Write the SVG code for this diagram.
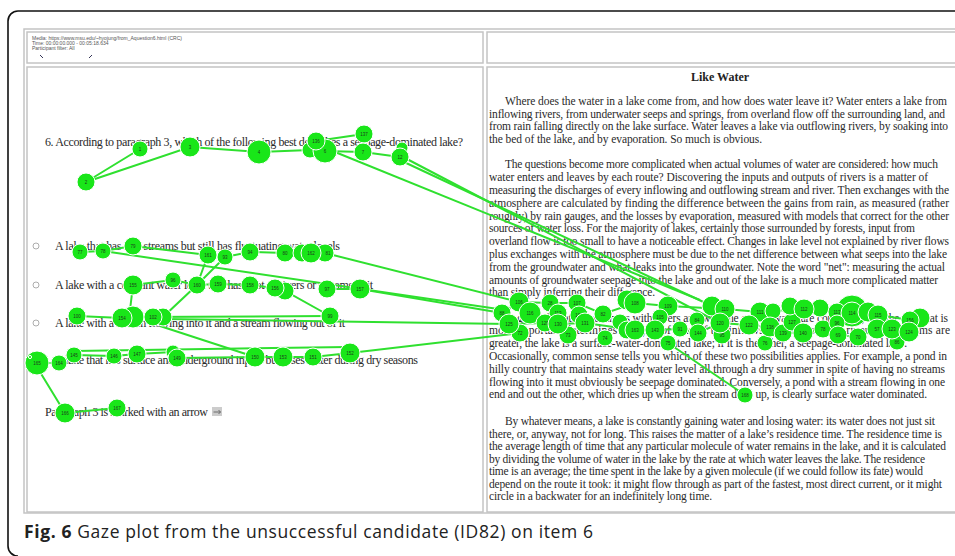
<svg xmlns="http://www.w3.org/2000/svg" width="955" height="556" viewBox="0 0 955 556">
<style>
.pg{font-family:"Liberation Serif","Times New Roman",serif;font-size:11.5px;fill:#2a2a2a}
.q{font-family:"Liberation Serif","Times New Roman",serif;font-size:12px;fill:#2a2a2a}
.sm{font-family:"Liberation Sans",Arial,sans-serif;font-size:5px;fill:#555}
.fx circle{fill:#19e619;stroke:#fff;stroke-width:1}
.fx text{font-family:"Liberation Sans",Arial,sans-serif;font-size:4.5px;fill:#1c3c1c;text-anchor:middle;dominant-baseline:central}
.cn line,.cn polyline{stroke:#2fe02f;stroke-width:2;fill:none}
.bd{fill:none;stroke:#c4c4c4;stroke-width:1.5}
.rd{fill:#fff;stroke:#999;stroke-width:0.8}
</style>
<rect width="955" height="556" fill="#fff"/>
<path d="M955,11 H18 A10,10 0 0 0 8,21 V546 A10,10 0 0 0 18,556" fill="none" stroke="#111" stroke-width="1.6"/>
<g id="screen">
<rect x="24" y="29" width="940" height="484" class="bd" stroke-width="2"/>
<rect x="27" y="32" width="456" height="31" class="bd"/>
<rect x="487" y="32" width="480" height="31" class="bd"/>
<rect x="27" y="67" width="456" height="445" class="bd"/>
<rect x="487" y="67" width="480" height="445" class="bd"/>
</g>
<g id="info">
<text class="sm" x="32" y="40">Media: https://www.msu.edu/~hyojung/from_Aquestion6.html (CRC)</text>
<text class="sm" x="32" y="45">Time: 00:00:00.000 - 00:05:18.634</text>
<text class="sm" x="32" y="50">Participant filter: All</text>
<path d="M40,55 l3,3 M89,58 l3,-3" stroke="#335" stroke-width="1"/>
</g>
<g id="question">
<text class="q" x="45" y="146" textLength="418" lengthAdjust="spacing">6. According to paragraph 3, which of the following best describes a seepage-dominated lake?</text>
<circle class="rd" cx="36" cy="246" r="3"/>
<circle class="rd" cx="36" cy="285" r="3"/>
<circle class="rd" cx="36" cy="323" r="3"/>
<circle class="rd" cx="36" cy="360" r="3"/>
<text class="q" x="55" y="250" textLength="285" lengthAdjust="spacing">A lake that has few streams but still has fluctuating water levels</text>
<text class="q" x="55" y="289" textLength="318" lengthAdjust="spacing">A lake with a constant water level that has a lot of rivers or streams in it</text>
<text class="q" x="55" y="327" textLength="290" lengthAdjust="spacing">A lake with a stream flowing into it and a stream flowing out of it</text>
<text class="q" x="55" y="364" textLength="363" lengthAdjust="spacing">A lake that has surface and underground inputs but loses water during dry seasons</text>
<text class="q" x="45" y="416" textLength="163" lengthAdjust="spacing">Paragraph 3 is marked with an arrow</text>
<rect x="212" y="407" width="10" height="9" fill="#ccc"/>
<path d="M213.5,412 h7 m-2,-2 l2,2 l-2,2" stroke="#555" stroke-width="0.8" fill="none"/>
</g>
<g id="passage">
<text x="720" y="81" text-anchor="middle" font-family="Liberation Serif,serif" font-size="12" font-weight="bold" fill="#222">Like Water</text>
<text class="pg" x="505" y="105" textLength="442" lengthAdjust="spacing">Where does the water in a lake come from, and how does water leave it? Water enters a lake from</text>
<text class="pg" x="489" y="118" textLength="456" lengthAdjust="spacing">inflowing rivers, from underwater seeps and springs, from overland flow off the surrounding land, and</text>
<text class="pg" x="489" y="130" textLength="459" lengthAdjust="spacing">from rain falling directly on the lake surface. Water leaves a lake via outflowing rivers, by soaking into</text>
<text class="pg" x="489" y="143" textLength="273" lengthAdjust="spacing">the bed of the lake, and by evaporation. So much is obvious.</text>
<text class="pg" x="505" y="168" textLength="433" lengthAdjust="spacing">The questions become more complicated when actual volumes of water are considered: how much</text>
<text class="pg" x="489" y="181" textLength="439" lengthAdjust="spacing">water enters and leaves by each route? Discovering the inputs and outputs of rivers is a matter of</text>
<text class="pg" x="489" y="194" textLength="460" lengthAdjust="spacing">measuring the discharges of every inflowing and outflowing stream and river. Then exchanges with the</text>
<text class="pg" x="489" y="207" textLength="460" lengthAdjust="spacing">atmosphere are calculated by finding the difference between the gains from rain, as measured (rather</text>
<text class="pg" x="489" y="220" textLength="460" lengthAdjust="spacing">roughly) by rain gauges, and the losses by evaporation, measured with models that correct for the other</text>
<text class="pg" x="489" y="232" textLength="426" lengthAdjust="spacing">sources of water loss. For the majority of lakes, certainly those surrounded by forests, input from</text>
<text class="pg" x="489" y="245" textLength="460" lengthAdjust="spacing">overland flow is too small to have a noticeable effect. Changes in lake level not explained by river flows</text>
<text class="pg" x="489" y="258" textLength="458" lengthAdjust="spacing">plus exchanges with the atmosphere must be due to the net difference between what seeps into the lake</text>
<text class="pg" x="489" y="271" textLength="456" lengthAdjust="spacing">from the groundwater and what leaks into the groundwater. Note the word "net": measuring the actual</text>
<text class="pg" x="489" y="284" textLength="449" lengthAdjust="spacing">amounts of groundwater seepage into the lake and out of the lake is a much more complicated matter</text>
<text class="pg" x="489" y="296" textLength="166" lengthAdjust="spacing">than simply inferring their difference.</text>
<text class="pg" x="505" y="322" textLength="443" lengthAdjust="spacing">In general, water exchanges with rivers and with the groundwater are compared, and the one that is</text>
<text class="pg" x="489" y="334" textLength="461" lengthAdjust="spacing">more important determines the type of lake. If the inflows and outflows by rivers and streams are</text>
<text class="pg" x="489" y="347" textLength="418" lengthAdjust="spacing">greater, the lake is a surface-water-dominated lake; if it is the other, a seepage-dominated lake.</text>
<text class="pg" x="489" y="360" textLength="458" lengthAdjust="spacing">Occasionally, common sense tells you which of these two possibilities applies. For example, a pond in</text>
<text class="pg" x="489" y="373" textLength="456" lengthAdjust="spacing">hilly country that maintains steady water level all through a dry summer in spite of having no streams</text>
<text class="pg" x="489" y="386" textLength="456" lengthAdjust="spacing">flowing into it must obviously be seepage dominated. Conversely, a pond with a stream flowing in one</text>
<text class="pg" x="489" y="398" textLength="438" lengthAdjust="spacing">end and out the other, which dries up when the stream dries up, is clearly surface water dominated.</text>
<text class="pg" x="505" y="425" textLength="430" lengthAdjust="spacing">By whatever means, a lake is constantly gaining water and losing water: its water does not just sit</text>
<text class="pg" x="489" y="438" textLength="453" lengthAdjust="spacing">there, or, anyway, not for long. This raises the matter of a lake’s residence time. The residence time is</text>
<text class="pg" x="489" y="450" textLength="457" lengthAdjust="spacing">the average length of time that any particular molecule of water remains in the lake, and it is calculated</text>
<text class="pg" x="489" y="463" textLength="436" lengthAdjust="spacing">by dividing the volume of water in the lake by the rate at which water leaves the lake. The residence</text>
<text class="pg" x="489" y="475" textLength="434" lengthAdjust="spacing">time is an average; the time spent in the lake by a given molecule (if we could follow its fate) would</text>
<text class="pg" x="489" y="488" textLength="453" lengthAdjust="spacing">depend on the route it took: it might flow through as part of the fastest, most direct current, or it might</text>
<text class="pg" x="489" y="500" textLength="223" lengthAdjust="spacing">circle in a backwater for an indefinitely long time.</text>
</g>
<g id="connectors" class="cn">
<polyline points="140,149 86,182 190,147 259,152 310,150 325,151 363,152 400,157"/>
<line x1="316" y1="141" x2="364" y2="134"/>
<line x1="405" y1="158" x2="720" y2="323"/>
<line x1="404" y1="162" x2="712" y2="306"/>
<line x1="335" y1="152" x2="700" y2="300"/>
<polyline points="80,252 103,251 133,246 208,255 225,257 250,252 285,253 310,253 325,253"/>
<line x1="208" y1="255" x2="197" y2="285"/>
<line x1="225" y1="257" x2="197" y2="285"/>
<polyline points="133,285 173,280 197,285 218,284 250,285 275,288 285,291 330,316"/>
<line x1="327" y1="289" x2="360" y2="289"/>
<line x1="103" y1="251" x2="505" y2="310"/>
<line x1="360" y1="289" x2="502" y2="313"/>
<line x1="325" y1="253" x2="519" y2="302"/>
<polyline points="133,285 130,310 122,318 77,316"/>
<line x1="197" y1="285" x2="163" y2="317"/>
<line x1="133" y1="317" x2="330" y2="316"/>
<line x1="163" y1="319" x2="509" y2="324"/>
<line x1="160" y1="326" x2="255" y2="357"/>
<polyline points="37,363 59,363 74,355 114,356 137,354 173,352 177,358 255,357 283,357 313,357 350,353"/>
<line x1="74" y1="351" x2="348" y2="347"/>
<line x1="350" y1="353" x2="520" y2="333"/>
<polyline points="40,372 65,413 117,408"/>
<polyline points="502,313 519,302 550,303 577,303 603,314 635,303 668,306 725,309 760,312 804,309 852,313 878,315 910,320"/>
<polyline points="509,324 545,323 558,324 585,323 635,330 655,330 680,329 698,333 720,323 749,325 770,327 783,333 803,333 823,329 838,335 858,337 877,329 892,329 909,332"/>
<line x1="668" y1="343" x2="745" y2="395"/>
</g>
<g id="fixations" class="fx">
<g id="f2"><circle cx="86" cy="182" r="9"/><text x="86" y="182">2</text></g>
<g id="f1"><circle cx="140" cy="149" r="8"/><text x="140" y="149">1</text></g>
<g id="f3"><circle cx="190" cy="147" r="10"/><text x="190" y="147">3</text></g>
<g id="f4"><circle cx="259" cy="152" r="12"/><text x="259" y="152">4</text></g>
<g id="f5"><circle cx="310" cy="150" r="8"/></g>
<g id="f6"><circle cx="325" cy="151" r="12"/><text x="325" y="151">6</text></g>
<g id="f136"><circle cx="316" cy="141" r="9"/><text x="316" y="141">136</text></g>
<g id="f137"><circle cx="364" cy="134" r="9"/><text x="364" y="134">137</text></g>
<g id="f7"><circle cx="363" cy="152" r="9"/><text x="363" y="152">7</text></g>
<g id="f8"><circle cx="402" cy="148" r="6"/></g>
<g id="f12"><circle cx="400" cy="157" r="9"/><text x="400" y="157">12</text></g>
<g id="f77"><circle cx="80" cy="252" r="8"/><text x="80" y="252">77</text></g>
<g id="f78"><circle cx="103" cy="251" r="8"/><text x="103" y="251">78</text></g>
<g id="f79"><circle cx="133" cy="246" r="9"/><text x="133" y="246">79</text></g>
<g id="f93"><circle cx="225" cy="257" r="8"/><text x="225" y="257">93</text></g>
<g id="f161"><circle cx="208" cy="255" r="9"/><text x="208" y="255">161</text></g>
<g id="f94"><circle cx="250" cy="252" r="9"/><text x="250" y="252">94</text></g>
<g id="f80"><circle cx="285" cy="253" r="9"/><text x="285" y="253">80</text></g>
<g id="f81"><circle cx="325" cy="253" r="9"/><text x="328" y="253">81</text></g>
<g id="f163a"><circle cx="302" cy="253" r="9"/></g>
<g id="f162"><circle cx="311" cy="253" r="10"/><text x="311" y="253">162</text></g>
<g id="f96"><circle cx="173" cy="280" r="8"/><text x="173" y="280">96</text></g>
<g id="f155"><circle cx="133" cy="285" r="10"/><text x="133" y="285">155</text></g>
<g id="f160"><circle cx="197" cy="285" r="9"/><text x="197" y="285">160</text></g>
<g id="f159"><circle cx="218" cy="284" r="9"/><text x="218" y="284">159</text></g>
<g id="f158"><circle cx="250" cy="285" r="9"/><text x="250" y="285">158</text></g>
<g id="f98"><circle cx="285" cy="291" r="9"/></g>
<g id="f156"><circle cx="275" cy="288" r="9"/><text x="275" y="288">156</text></g>
<g id="f97"><circle cx="327" cy="289" r="9"/><text x="327" y="289">97</text></g>
<g id="f157"><circle cx="360" cy="289" r="10"/><text x="360" y="289">157</text></g>
<g id="f100"><circle cx="77" cy="316" r="9"/><text x="77" y="316">100</text></g>
<g id="f101"><circle cx="133" cy="317" r="11"/></g>
<g id="f154"><circle cx="122" cy="318" r="10"/><text x="122" y="318">154</text></g>
<g id="f103"><circle cx="163" cy="317" r="9"/></g>
<g id="f102"><circle cx="153" cy="317" r="9"/><text x="153" y="317">102</text></g>
<g id="f99"><circle cx="330" cy="316" r="9"/><text x="330" y="316">99</text></g>
<g id="f165"><circle cx="37" cy="363" r="12"/><text x="37" y="363">165</text></g>
<g id="f164"><circle cx="59" cy="363" r="8"/><text x="59" y="363">164</text></g>
<g id="f145"><circle cx="74" cy="355" r="8"/><text x="74" y="355">145</text></g>
<g id="f146"><circle cx="114" cy="356" r="8"/><text x="114" y="356">146</text></g>
<g id="f147"><circle cx="137" cy="354" r="9"/><text x="137" y="354">147</text></g>
<g id="f148"><circle cx="173" cy="352" r="7"/></g>
<g id="f149"><circle cx="177" cy="358" r="9"/><text x="177" y="358">149</text></g>
<g id="f150"><circle cx="255" cy="357" r="10"/><text x="255" y="357">150</text></g>
<g id="f153"><circle cx="283" cy="357" r="10"/><text x="283" y="357">153</text></g>
<g id="f151"><circle cx="313" cy="357" r="9"/><text x="313" y="357">151</text></g>
<g id="f152"><circle cx="350" cy="353" r="10"/><text x="350" y="353">152</text></g>
<circle cx="30" cy="357" r="1.6" fill="#d00" stroke="none"/>
<g id="f166"><circle cx="65" cy="413" r="10"/><text x="65" y="413">166</text></g>
<g id="f167"><circle cx="117" cy="408" r="9"/><text x="117" y="408">167</text></g>
<g id="r106"><circle cx="519" cy="302" r="10"/><text x="519" y="302">106</text></g>
<g id="r28"><circle cx="550" cy="303" r="9"/><text x="550" y="303">28</text></g>
<g id="r107"><circle cx="577" cy="303" r="9"/><text x="577" y="303">107</text></g>
<g id="r88"><circle cx="502" cy="313" r="9"/><text x="502" y="313">88</text></g>
<g id="r116"><circle cx="530" cy="313" r="11"/><text x="530" y="313">116</text></g>
<g id="r113"><circle cx="558" cy="313" r="9"/><text x="558" y="313">113</text></g>
<g id="r104"><circle cx="579" cy="315" r="9"/><text x="579" y="315">104</text></g>
<g id="r82"><circle cx="603" cy="314" r="9"/><text x="603" y="314">82</text></g>
<g id="r72"><circle cx="520" cy="333" r="9"/><text x="520" y="333">72</text></g>
<g id="r125"><circle cx="509" cy="324" r="10"/><text x="509" y="324">125</text></g>
<g id="r129"><circle cx="545" cy="323" r="9"/><text x="545" y="323">129</text></g>
<g id="r73"><circle cx="568" cy="335" r="9"/><text x="568" y="335">73</text></g>
<g id="r130"><circle cx="558" cy="324" r="10"/><text x="558" y="324">130</text></g>
<g id="r131"><circle cx="585" cy="323" r="10"/><text x="585" y="323">131</text></g>
<g id="r74"><circle cx="605" cy="338" r="8"/><text x="605" y="338">74</text></g>
<g id="r118"><circle cx="620" cy="322" r="8"/></g>
<g id="r119"><circle cx="627" cy="330" r="9"/></g>
<g id="r108b"><circle cx="627" cy="300" r="10"/></g>
<g id="r108"><circle cx="635" cy="303" r="11"/><text x="635" y="303">108</text></g>
<g id="r109"><circle cx="668" cy="306" r="10"/><text x="668" y="306">109</text></g>
<g id="r105"><circle cx="660" cy="317" r="8"/><text x="660" y="317">105</text></g>
<g id="r163"><circle cx="635" cy="330" r="10"/><text x="635" y="330">163</text></g>
<g id="r143"><circle cx="655" cy="330" r="10"/><text x="655" y="330">143</text></g>
<g id="r75"><circle cx="668" cy="343" r="8"/><text x="668" y="343">75</text></g>
<g id="r91"><circle cx="680" cy="329" r="8"/><text x="680" y="329">91</text></g>
<g id="r84"><circle cx="697" cy="320" r="8"/><text x="697" y="320">84</text></g>
<g id="r144"><circle cx="698" cy="333" r="9"/><text x="698" y="333">144</text></g>
<g id="r110b"><circle cx="712" cy="306" r="10"/></g>
<g id="r110"><circle cx="725" cy="309" r="10"/><text x="725" y="309">110</text></g>
<g id="r95"><circle cx="722" cy="335" r="9"/><text x="722" y="335">95</text></g>
<g id="r120"><circle cx="720" cy="323" r="10"/><text x="720" y="323">120</text></g>
<g id="r111"><circle cx="760" cy="312" r="10"/><text x="760" y="312">111</text></g>
<g id="r117"><circle cx="773" cy="311" r="8"/></g>
<g id="r76"><circle cx="765" cy="343" r="8"/><text x="765" y="343">76</text></g>
<g id="r122"><circle cx="749" cy="325" r="10"/><text x="749" y="325">122</text></g>
<g id="r138"><circle cx="770" cy="327" r="10"/><text x="770" y="327">138</text></g>
<g id="r139"><circle cx="783" cy="333" r="9"/><text x="783" y="333">139</text></g>
<g id="r127"><circle cx="792" cy="322" r="9"/><text x="792" y="322">127</text></g>
<g id="r112a"><circle cx="790" cy="306" r="9"/></g>
<g id="r112b"><circle cx="820" cy="308" r="9"/></g>
<g id="r112"><circle cx="804" cy="309" r="10"/><text x="804" y="309">112</text></g>
<g id="r140"><circle cx="803" cy="333" r="10"/><text x="803" y="333">140</text></g>
<g id="r78"><circle cx="823" cy="329" r="9"/><text x="823" y="329">78</text></g>
<g id="r114b"><circle cx="852" cy="311" r="16"/></g>
<g id="r113b"><circle cx="837" cy="312" r="9"/><text x="837" y="312">113</text></g>
<g id="r114"><circle cx="852" cy="313" r="11"/><text x="852" y="313">114</text></g>
<g id="r96"><circle cx="837" cy="323" r="8"/><text x="837" y="323">96</text></g>
<g id="r69"><circle cx="838" cy="335" r="9"/><text x="838" y="335">69</text></g>
<g id="r70"><circle cx="858" cy="337" r="9"/><text x="858" y="337">70</text></g>
<g id="r115b"><circle cx="868" cy="312" r="10"/></g>
<g id="r115"><circle cx="878" cy="315" r="10"/><text x="878" y="315">115</text></g>
<g id="r86"><circle cx="897" cy="342" r="8"/><text x="897" y="342">86</text></g>
<g id="r57"><circle cx="877" cy="329" r="10"/><text x="877" y="329">57</text></g>
<g id="r126"><circle cx="920" cy="318" r="10"/></g>
<g id="r156"><circle cx="910" cy="320" r="9"/><text x="910" y="320">156</text></g>
<g id="r123"><circle cx="892" cy="329" r="10"/><text x="892" y="329">123</text></g>
<g id="r124"><circle cx="909" cy="332" r="10"/><text x="909" y="332">124</text></g>
<g id="r168"><circle cx="745" cy="395" r="8"/><text x="745" y="395">168</text></g>
</g>
<text x="24" y="538" font-family="'Open Sans','Noto Sans',sans-serif" font-size="17.5" fill="#222" textLength="569" lengthAdjust="spacing"><tspan font-weight="bold">Fig. 6</tspan> Gaze plot from the unsuccessful candidate (ID82) on item 6</text>
</svg>
